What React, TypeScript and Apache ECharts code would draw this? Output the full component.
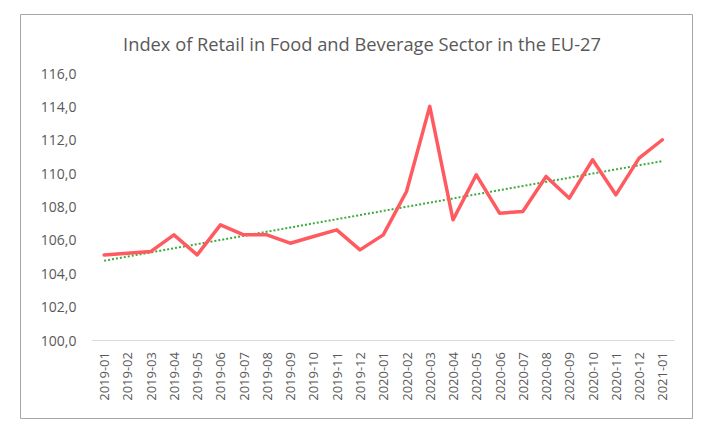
import React, { useEffect, useRef } from "react";
import * as echarts from "echarts";

const categories = [
  "2019-01", "2019-02", "2019-03", "2019-04", "2019-05", "2019-06", "2019-07",
  "2019-08", "2019-09", "2019-10", "2019-11", "2019-12", "2020-01", "2020-02",
  "2020-03", "2020-04", "2020-05", "2020-06", "2020-07", "2020-08", "2020-09",
  "2020-10", "2020-11", "2020-12", "2021-01",
];

const indexValues = [
  105.1, 105.2, 105.3, 106.3, 105.1, 106.9, 106.3, 106.3, 105.8, 106.2, 106.6,
  105.4, 106.3, 108.9, 114.0, 107.2, 109.9, 107.6, 107.7, 109.8, 108.5, 110.8,
  108.7, 110.9, 112.0,
];

// Linear trendline endpoints
const trendStart = 104.75;
const trendEnd = 110.72;

const title = "Index of Retail in Food and Beverage Sector in the EU-27";
const FONT = "'Open Sans', 'Noto Sans', sans-serif";

export default function App() {
  const ref = useRef<HTMLDivElement>(null);

  useEffect(() => {
    if (!ref.current) return;
    const chart = echarts.init(ref.current, null, { renderer: "svg" });
    const trendData = categories.map((_, i) =>
      i === 0 ? trendStart : i === categories.length - 1 ? trendEnd : null
    );
    chart.setOption({
      animation: false,
      backgroundColor: "#ffffff",
      title: {
        text: title,
        left: 357,
        textAlign: "center",
        top: 29,
        textStyle: {
          fontFamily: FONT,
          fontSize: 18.3,
          fontWeight: "normal",
          color: "#595959",
        },
      },
      graphic: [
        {
          type: "rect",
          shape: { x: 20.5, y: 14.5, width: 672, height: 404 },
          style: { fill: "none", stroke: "#a6a6a6", lineWidth: 1 },
          silent: true,
        },
      ],
      grid: { left: 92.5, right: 38, top: 73, bottom: 96, containLabel: false },
      xAxis: {
        type: "category",
        data: categories,
        boundaryGap: true,
        axisLine: { show: true, lineStyle: { color: "#d9d9d9", width: 1 } },
        axisTick: { show: false },
        axisLabel: {
          rotate: 90,
          interval: 0,
          margin: 12,
          fontFamily: FONT,
          fontSize: 13,
          color: "#595959",
        },
      },
      yAxis: {
        type: "value",
        min: 100,
        max: 116,
        interval: 2,
        splitLine: { show: false },
        axisLine: { show: false },
        axisTick: { show: false },
        axisLabel: {
          margin: 16,
          fontFamily: FONT,
          fontSize: 14,
          color: "#595959",
          formatter: (v: number) => v.toFixed(1).replace(".", ","),
        },
      },
      series: [
        {
          type: "line",
          data: indexValues,
          symbol: "none",
          lineStyle: { color: "#FF5A5F", width: 3.5, join: "round", cap: "round" },
          z: 3,
        },
        {
          type: "line",
          data: trendData,
          connectNulls: true,
          symbol: "none",
          lineStyle: { color: "#3DAA3D", width: 2, type: [2, 2] },
          z: 2,
        },
      ],
    });
    return () => chart.dispose();
  }, []);

  return (
    <div
      ref={ref}
      style={{ position: "absolute", left: 0, top: 0, width: 712, height: 436 }}
    />
  );
}
